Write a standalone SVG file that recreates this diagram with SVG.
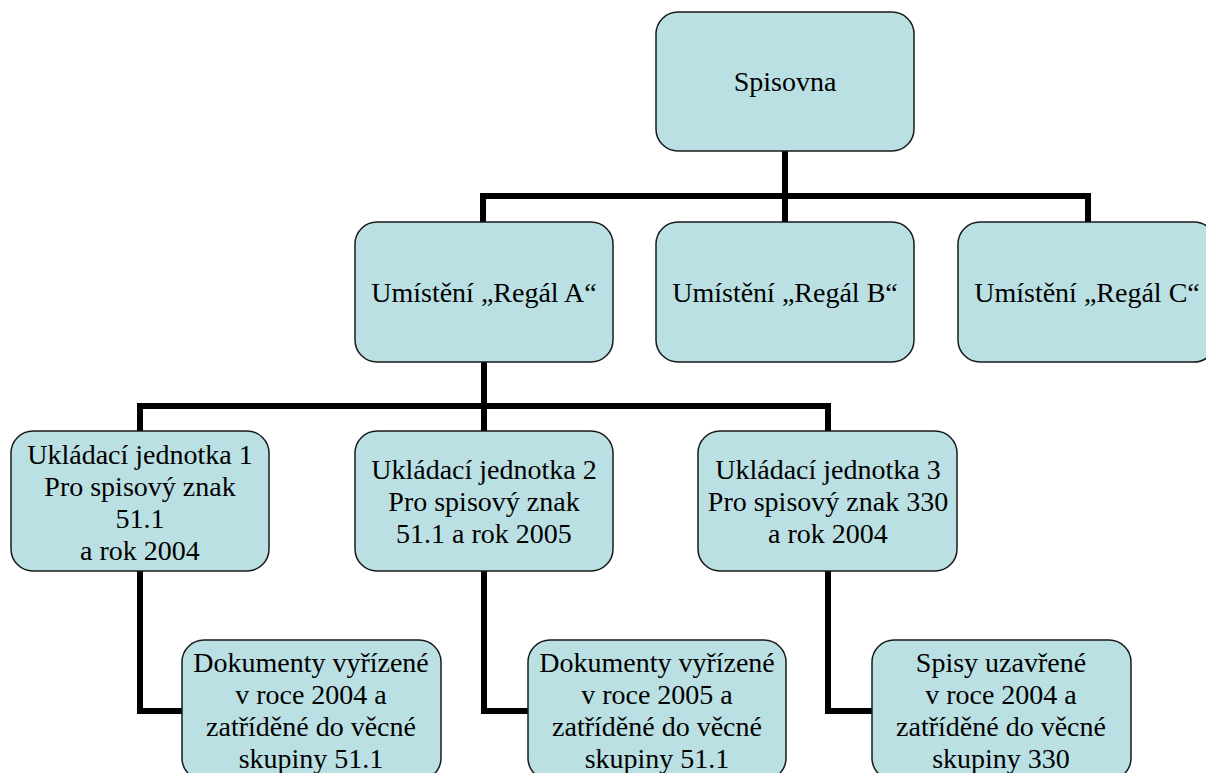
<svg xmlns="http://www.w3.org/2000/svg" width="1206" height="773" viewBox="0 0 1206 773">
<style>
.box{fill:#BBE0E3;stroke:#1a1a1a;stroke-width:1.5}
text{font-family:'Liberation Serif','Times New Roman',serif;font-size:28px;fill:#000;text-anchor:middle}
.c{fill:none;stroke:#000;stroke-width:6;stroke-linejoin:miter;stroke-linecap:butt}
</style>
<rect width="1206" height="773" fill="#fff"/>
<g id="connectors">
<path class="c" d="M785 151V222M483 222V196H1088V222"/>
<path class="c" d="M484 362V431M140 431V406H828V431"/>
<path class="c" d="M140 571V711H182"/>
<path class="c" d="M484 571V711H528"/>
<path class="c" d="M828 571V711H872"/>
</g>
<g id="spisovna">
<rect class="box" x="656" y="12" width="258" height="139" rx="22"/>
<text x="785" y="91">Spisovna</text>
</g>
<g id="regalA">
<rect class="box" x="355" y="222" width="258" height="140" rx="22"/>
<text x="484" y="302">Umístění „Regál A“</text>
</g>
<g id="regalB">
<rect class="box" x="656" y="222" width="258" height="140" rx="22"/>
<text x="785" y="302">Umístění „Regál B“</text>
</g>
<g id="regalC">
<rect class="box" x="958" y="222" width="258" height="140" rx="22"/>
<text x="1087" y="302">Umístění „Regál C“</text>
</g>
<g id="jednotka1">
<rect class="box" x="11" y="431" width="258" height="140" rx="22"/>
<text x="140" y="464">Ukládací jednotka 1</text>
<text x="140" y="496">Pro spisový znak</text>
<text x="140" y="528">51.1</text>
<text x="140" y="560">a rok 2004</text>
</g>
<g id="jednotka2">
<rect class="box" x="355" y="431" width="258" height="140" rx="22"/>
<text x="484" y="479">Ukládací jednotka 2</text>
<text x="484" y="511">Pro spisový znak</text>
<text x="484" y="543">51.1 a rok 2005</text>
</g>
<g id="jednotka3">
<rect class="box" x="698" y="431" width="259" height="140" rx="22"/>
<text x="828" y="479">Ukládací jednotka 3</text>
<text x="828" y="511">Pro spisový znak 330</text>
<text x="828" y="543">a rok 2004</text>
</g>
<g id="dokumenty2004">
<rect class="box" x="182" y="640" width="259" height="140" rx="22"/>
<text x="311" y="672">Dokumenty vyřízené</text>
<text x="311" y="704">v roce 2004 a</text>
<text x="311" y="736">zatříděné do věcné</text>
<text x="311" y="768">skupiny 51.1</text>
</g>
<g id="dokumenty2005">
<rect class="box" x="528" y="640" width="258" height="140" rx="22"/>
<text x="657" y="672">Dokumenty vyřízené</text>
<text x="657" y="704">v roce 2005 a</text>
<text x="657" y="736">zatříděné do věcné</text>
<text x="657" y="768">skupiny 51.1</text>
</g>
<g id="spisy2004">
<rect class="box" x="872" y="640" width="259" height="140" rx="22"/>
<text x="1001" y="672">Spisy uzavřené</text>
<text x="1001" y="704">v roce 2004 a</text>
<text x="1001" y="736">zatříděné do věcné</text>
<text x="1001" y="768">skupiny 330</text>
</g>
</svg>
